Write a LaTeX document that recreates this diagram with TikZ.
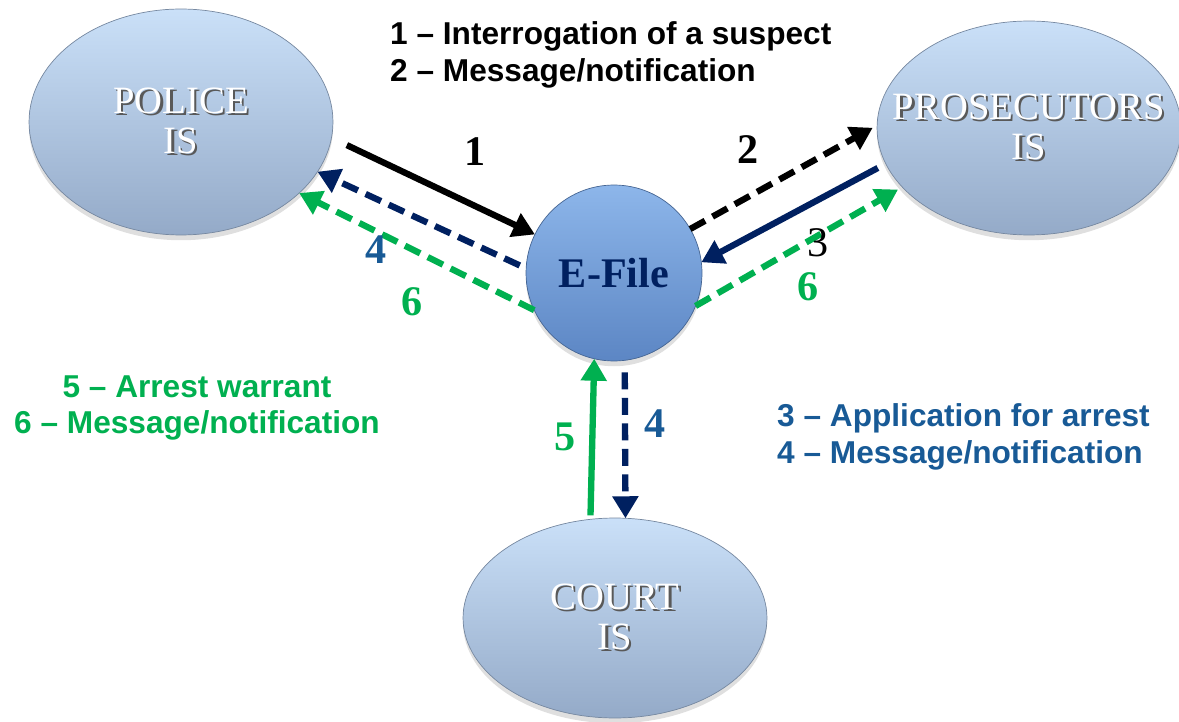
\documentclass[tikz,border=0pt]{standalone}
\usepackage{fontspec}
\setmainfont{Liberation Serif}
\setsansfont{Liberation Sans}
\usetikzlibrary{arrows.meta,shapes.geometric,shadows}
\definecolor{navy}{RGB}{0,32,96}
\definecolor{grn}{RGB}{0,176,80}
\definecolor{legblue}{RGB}{24,90,150}
\definecolor{islight}{RGB}{202,224,248}
\definecolor{isdark}{RGB}{148,170,200}
\definecolor{eflight}{RGB}{141,182,234}
\definecolor{efdark}{RGB}{92,134,196}
\newcommand{\shtxt}[1]{\makebox[0pt]{\rlap{\kern1.3pt\raisebox{-1.3pt}{\textcolor{black!65}{#1}}}#1}}
\tikzset{
  isnode/.style={ellipse,inner sep=0pt,outer sep=0pt,top color=islight,bottom color=isdark,
    draw=isdark!80!black,line width=0.4pt,text=white,align=center,
    font=\fontsize{22}{23}\selectfont,drop shadow={opacity=0.25,shadow xshift=0pt,shadow yshift=-3pt}},
  efnode/.style={circle,inner sep=0pt,outer sep=0pt,minimum size=3.52cm,top color=eflight,
    bottom color=efdark,draw=efdark!75!black,line width=0.4pt,text=navy,
    font=\fontsize{24}{24}\selectfont\bfseries,drop shadow={opacity=0.25,shadow xshift=0pt,shadow yshift=-3pt}},
  arr/.style={line width=3.6pt,-{Triangle[length=0.44cm,width=0.5cm]}},
  dsh/.style={dash pattern=on 0.34cm off 0.17cm},
  numlbl/.style={font=\fontsize{24}{24}\selectfont\bfseries},
  legend/.style={font=\sffamily\bfseries\fontsize{18}{21}\selectfont}
}
\begin{document}
\begin{tikzpicture}[x=0.02cm,y=0.02cm]
\useasboundingbox (0,0) rectangle (1179,721);
\node (police) at (181,599) [isnode,minimum width=6.08cm,minimum height=4.52cm] {\shtxt{POLICE}\\\shtxt{IS}};
\node (pros) at (1029,593) [isnode,minimum width=6.08cm,minimum height=4.28cm] {\shtxt{PROSECUTORS}\\\shtxt{IS}};
\node (court) at (615,103) [isnode,minimum width=6.08cm,minimum height=4.0cm] {\shtxt{COURT}\\\shtxt{IS}};
\node (efile) at (614,448) [efnode] {E-File};

% black: police -> e-file -> prosecutors
\draw [arr,shorten <=0.34cm] (police.-6) -- (efile.154);
\draw [arr,dsh,shorten >=0.1cm] (efile.30) -- (pros.179);
% navy: prosecutors -> e-file -> police, court
\draw [arr,navy,shorten <=0.18cm] (pros.194) -- (efile.7);
\draw [arr,navy,dsh,shorten <=0.14cm] (efile.177) -- (police.-20);
\draw [arr,navy,dsh,shorten <=0.24cm] (efile.277) -- (court.84);
% green: court -> e-file -> police, prosecutors
\draw [arr,grn,shorten <=0.08cm] (court.104) -- (efile.257);
\draw [arr,grn,dsh] (efile.205) -- (police.-31);
\draw [arr,grn,dsh,shorten >=0.1cm] (efile.-22) -- (pros.205);

\node (l1) at (475,569) [numlbl] {1};
\node (l2) at (748,571) [numlbl] {2};
\node (l3) at (818,478) [font=\fontsize{24}{24}\selectfont] {3};
\node (l6r) at (808,434) [numlbl,text=grn] {6};
\node (l4l) at (376,471) [numlbl,text=legblue] {4};
\node (l6l) at (412,419) [numlbl,text=grn] {6};
\node (l5) at (565,284) [numlbl,text=grn] {5};
\node (l4d) at (655,297) [numlbl,text=legblue] {4};

\node (key12) at (384,666) [legend,anchor=west,align=left] {1 -- Interrogation of a suspect\\2 -- Message/notification};
\node (key56) at (197,313) [legend,text=grn,align=center] {5 -- Arrest warrant\\6 -- Message/notification};
\node (key34) at (771,284) [legend,text=legblue,anchor=west,align=left] {3 -- Application for arrest\\4 -- Message/notification};
\end{tikzpicture}
\end{document}
